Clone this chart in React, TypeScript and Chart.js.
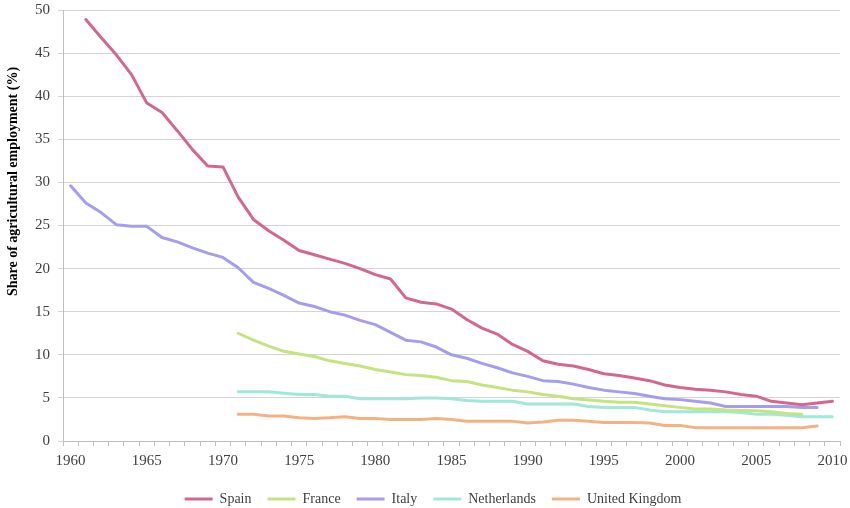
import React, { useEffect, useRef } from "react";
import { Chart, registerables } from "chart.js";

Chart.register(...registerables);

const years: string[] = [];
for (let y = 1960; y <= 2010; y++) years.push(String(y));

const spainStart = 1961;
const spain = [48.9, 46.8, 44.8, 42.5, 39.2, 38.1, 36.0, 33.8, 31.9, 31.8,
  28.3, 25.7, 24.4, 23.3, 22.1, 21.6, 21.1, 20.6, 20.0, 19.3,
  18.8, 16.6, 16.1, 15.9, 15.3, 14.1, 13.1, 12.4, 11.2, 10.4,
  9.3, 8.9, 8.7, 8.3, 7.8, 7.6, 7.3, 7.0, 6.5, 6.2,
  6.0, 5.9, 5.7, 5.4, 5.2, 4.6, 4.4, 4.2, 4.4, 4.6];

const franceStart = 1971;
const france = [12.5, 11.7, 11.0, 10.4, 10.1, 9.8, 9.3, 9.0, 8.7, 8.3,
  8.0, 7.7, 7.6, 7.4, 7.0, 6.9, 6.5, 6.2, 5.9, 5.7,
  5.4, 5.2, 4.9, 4.75, 4.6, 4.5, 4.5, 4.3, 4.1, 3.9,
  3.7, 3.7, 3.6, 3.55, 3.5, 3.4, 3.2, 3.1];

const italyStart = 1960;
const italy = [29.6, 27.6, 26.5, 25.1, 24.9, 24.9, 23.6, 23.1, 22.4, 21.8,
  21.3, 20.1, 18.4, 17.7, 16.9, 16.0, 15.6, 15.0, 14.6, 14.0,
  13.5, 12.6, 11.7, 11.5, 10.9, 10.0, 9.6, 9.0, 8.5, 7.9,
  7.5, 7.0, 6.9, 6.6, 6.2, 5.9, 5.7, 5.5, 5.2, 4.9,
  4.8, 4.6, 4.4, 4.0, 4.0, 4.0, 4.0, 4.0, 3.9, 3.9];

const netherlandsStart = 1971;
const netherlands = [5.7, 5.7, 5.7, 5.55, 5.4, 5.4, 5.2, 5.2, 4.9,
  4.9, 4.9, 4.9, 5.0, 5.0, 4.9, 4.7, 4.6, 4.6, 4.6,
  4.3, 4.3, 4.3, 4.3, 4.0, 3.9, 3.9, 3.9, 3.6, 3.4,
  3.4, 3.4, 3.4, 3.4, 3.3, 3.1, 3.1, 3.0, 2.8, 2.8,
  2.8];

const ukStart = 1971;
const uk = [3.1, 3.1, 2.9, 2.9, 2.7, 2.6, 2.7, 2.8, 2.6,
  2.6, 2.5, 2.5, 2.5, 2.6, 2.5, 2.3, 2.3, 2.3, 2.3,
  2.1, 2.2, 2.4, 2.4, 2.3, 2.15, 2.15, 2.15, 2.1, 1.8,
  1.8, 1.55, 1.55, 1.55, 1.55, 1.55, 1.55, 1.55, 1.55, 1.75];

const yTicks = [0, 5, 10, 15, 20, 25, 30, 35, 40, 45, 50];
const yTitle = "Share of agricultural employment (%)";

function pad(start: number, values: number[]): (number | null)[] {
  return years.map((y) => {
    const i = Number(y) - start;
    return i >= 0 && i < values.length ? values[i] : null;
  });
}

const FONT = "'Liberation Serif', 'Times New Roman', serif";

const yTitlePlugin = {
  id: "yTitlePlugin",
  afterLayout(chart: any) {
    if (chart.legend) {
      chart.legend.left += 13;
      chart.legend.right += 13;
    }
  },
  afterDraw(chart: any) {
    const { ctx, chartArea } = chart;
    ctx.save();
    ctx.font = `bold 14px ${FONT}`;
    ctx.fillStyle = "#000000";
    ctx.textAlign = "center";
    ctx.textBaseline = "middle";
    ctx.translate(13, chartArea.top + chartArea.height * 0.398);
    ctx.rotate(-Math.PI / 2);
    ctx.fillText(yTitle, 0, 0);
    ctx.restore();
  },
};

export default function App() {
  const ref = useRef<HTMLCanvasElement | null>(null);

  useEffect(() => {
    document.body.style.margin = "0";
    if (!ref.current) return;
    const mk = (label: string, start: number, values: number[], color: string) => ({
      label,
      data: pad(start, values),
      borderColor: color,
      backgroundColor: color,
      borderWidth: 3,
      pointRadius: 0,
      tension: 0,
      borderJoinStyle: "round" as const,
      borderCapStyle: "round" as const,
      spanGaps: false,
    });
    const chart = new Chart(ref.current, {
      type: "line",
      data: {
        labels: years,
        datasets: [
          mk("Spain", spainStart, spain, "#d5668c"),
          mk("France", franceStart, france, "#c3e47e"),
          mk("Italy", italyStart, italy, "#a49df0"),
          mk("Netherlands", netherlandsStart, netherlands, "#a0e8da"),
          mk("United Kingdom", ukStart, uk, "#f6b183"),
        ],
      },
      plugins: [yTitlePlugin],
      options: {
        responsive: false,
        animation: false,
        layout: { padding: { left: 0, right: 10, top: 10, bottom: -8 } },
        plugins: {
          tooltip: { enabled: false },
          legend: {
            position: "bottom",
            labels: {
              boxWidth: 28,
              boxHeight: 3,
              padding: 16,
              color: "#404040",
              font: { family: FONT, size: 14 },
              generateLabels: (c: any) =>
                Chart.defaults.plugins.legend.labels
                  .generateLabels(c)
                  .map((it: any) => ({ ...it, lineWidth: 0 })),
            },
          },
        },
        scales: {
          x: {
            type: "category",
            offset: true,
            afterFit: (s: any) => {
              s.paddingLeft = 0;
              s.paddingRight = 0;
            },
            grid: {
              offset: true,
              drawOnChartArea: false,
              drawTicks: true,
              tickLength: 5,
              color: "#bfbfbf",
            },
            border: { display: true, color: "#bfbfbf" },
            ticks: {
              autoSkip: false,
              maxRotation: 0,
              padding: 6,
              color: "#404040",
              font: { family: FONT, size: 15 },
              callback: (_v: any, i: number) => (Number(years[i]) % 5 === 0 ? years[i] : ""),
            },
          },
          y: {
            min: 0,
            max: 50,
            afterFit: (s: any) => {
              s.width = 63;
              s.paddingTop = 0;
              s.paddingBottom = 0;
            },
            afterBuildTicks: (s: any) => {
              s.ticks = yTicks.map((v) => ({ value: v }));
            },
            grid: { color: "#d4d4d4", tickLength: 5, drawTicks: true },
            border: { display: true, color: "#bfbfbf" },
            ticks: {
              padding: 8,
              color: "#404040",
              font: { family: FONT, size: 15 },
            },
          },
        },
      },
    });
    return () => chart.destroy();
  }, []);

  return (
    <div style={{ width: 850, height: 508, background: "#fff" }}>
      <canvas ref={ref} width={850} height={508} style={{ display: "block" }} />
    </div>
  );
}
